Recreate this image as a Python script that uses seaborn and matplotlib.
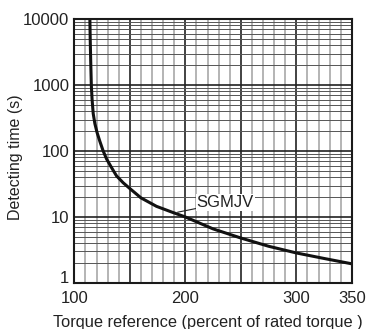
import numpy as np
import pandas as pd
import matplotlib
matplotlib.use("Agg")
import matplotlib.pyplot as plt
import matplotlib.transforms as mtransforms
import seaborn as sns
from matplotlib.ticker import FixedLocator, NullFormatter, LogLocator

# values (torque %, detecting time s)
torque = [114.0, 114.3, 114.7, 115.3, 116.0, 117.0, 118.5, 120.5, 123.0, 126.0,
          129.0, 133.0, 138.0, 144.0, 150.0, 160.0, 174.0, 187.0,
          200.0, 225.0, 250.0, 275.0, 300.0, 325.0, 350.0]
det_time = [10000, 5000, 2500, 1000, 600, 370, 260, 190, 140, 100,
            76, 58, 42, 33, 27, 19.5, 14.5, 12.0,
            10.0, 6.6, 4.8, 3.6, 2.85, 2.35, 1.95]

x_ticks = [100, 200, 300, 350]
y_ticks = [1, 10, 100, 1000, 10000]
curve_label = "SGMJV"

df = pd.DataFrame({"torque": torque, "time": det_time})

sns.set_style("white")
plt.rcParams["font.family"] = ["Liberation Sans", "DejaVu Sans"]

fig = plt.figure(figsize=(3.68, 3.29), dpi=100)
ax = fig.add_axes([0.202, 0.140, 0.754, 0.802])

ax.set_yscale("log")
ax.set_xlim(100, 350)
ax.set_ylim(1, 10000)

# grid: light minor verticals every 10 %, dark majors every 50 %
major_x = [100, 150, 200, 250, 300, 350]
ax.xaxis.set_major_locator(FixedLocator(major_x))
ax.xaxis.set_minor_locator(FixedLocator([v for v in range(110, 350, 10) if v % 50]))
ax.yaxis.set_major_locator(FixedLocator(y_ticks))
ax.yaxis.set_minor_locator(LogLocator(base=10, subs=np.arange(2, 10)))
ax.xaxis.set_minor_formatter(NullFormatter())
ax.yaxis.set_minor_formatter(NullFormatter())

ax.grid(which="minor", axis="x", color="#b4b4b4", linewidth=1.4)
ax.grid(which="minor", axis="y", color="#555555", linewidth=0.7)
ax.grid(which="major", axis="both", color="#222222", linewidth=1.2)
ax.set_axisbelow(True)

sns.lineplot(data=df, x="torque", y="time", color="#111111", linewidth=2.2, ax=ax)

ax.set_xticks(major_x)
ax.set_xticklabels([str(v) if v in x_ticks else "" for v in major_x])
ax.set_yticks(y_ticks)
ax.set_yticklabels([str(v) for v in y_ticks])
ax.tick_params(axis="both", which="both", length=0, labelsize=12, colors="#222222")
ax.tick_params(axis="x", pad=5.5)
ax.tick_params(axis="y", pad=3.5)

# the "1" label sits a little above the bottom edge in the reference
lbl1 = ax.get_yticklabels()[0]
lbl1.set_transform(lbl1.get_transform() + mtransforms.ScaledTranslation(0, 4 / 72, fig.dpi_scale_trans))

for s in ax.spines.values():
    s.set_visible(True)
    s.set_color("#1a1a1a")
    s.set_linewidth(1.5)

ax.set_xlabel("Torque reference (percent of rated torque )", fontsize=11.8, color="#222222")
ax.xaxis.set_label_coords(0.481, -0.122)
ax.set_ylabel("Detecting time (s)", fontsize=11.5, color="#222222")
ax.yaxis.set_label_coords(-0.185, 0.477)

ax.annotate(curve_label, xy=(193, 11.8), xytext=(236, 16.5), fontsize=12, color="#222222",
            ha="center", va="center",
            bbox=dict(boxstyle="square,pad=0.05", fc="white", ec="none"),
            arrowprops=dict(arrowstyle="-", color="#222222", linewidth=0.8, shrinkA=0, shrinkB=0))

fig.savefig("out.png", dpi=100)
